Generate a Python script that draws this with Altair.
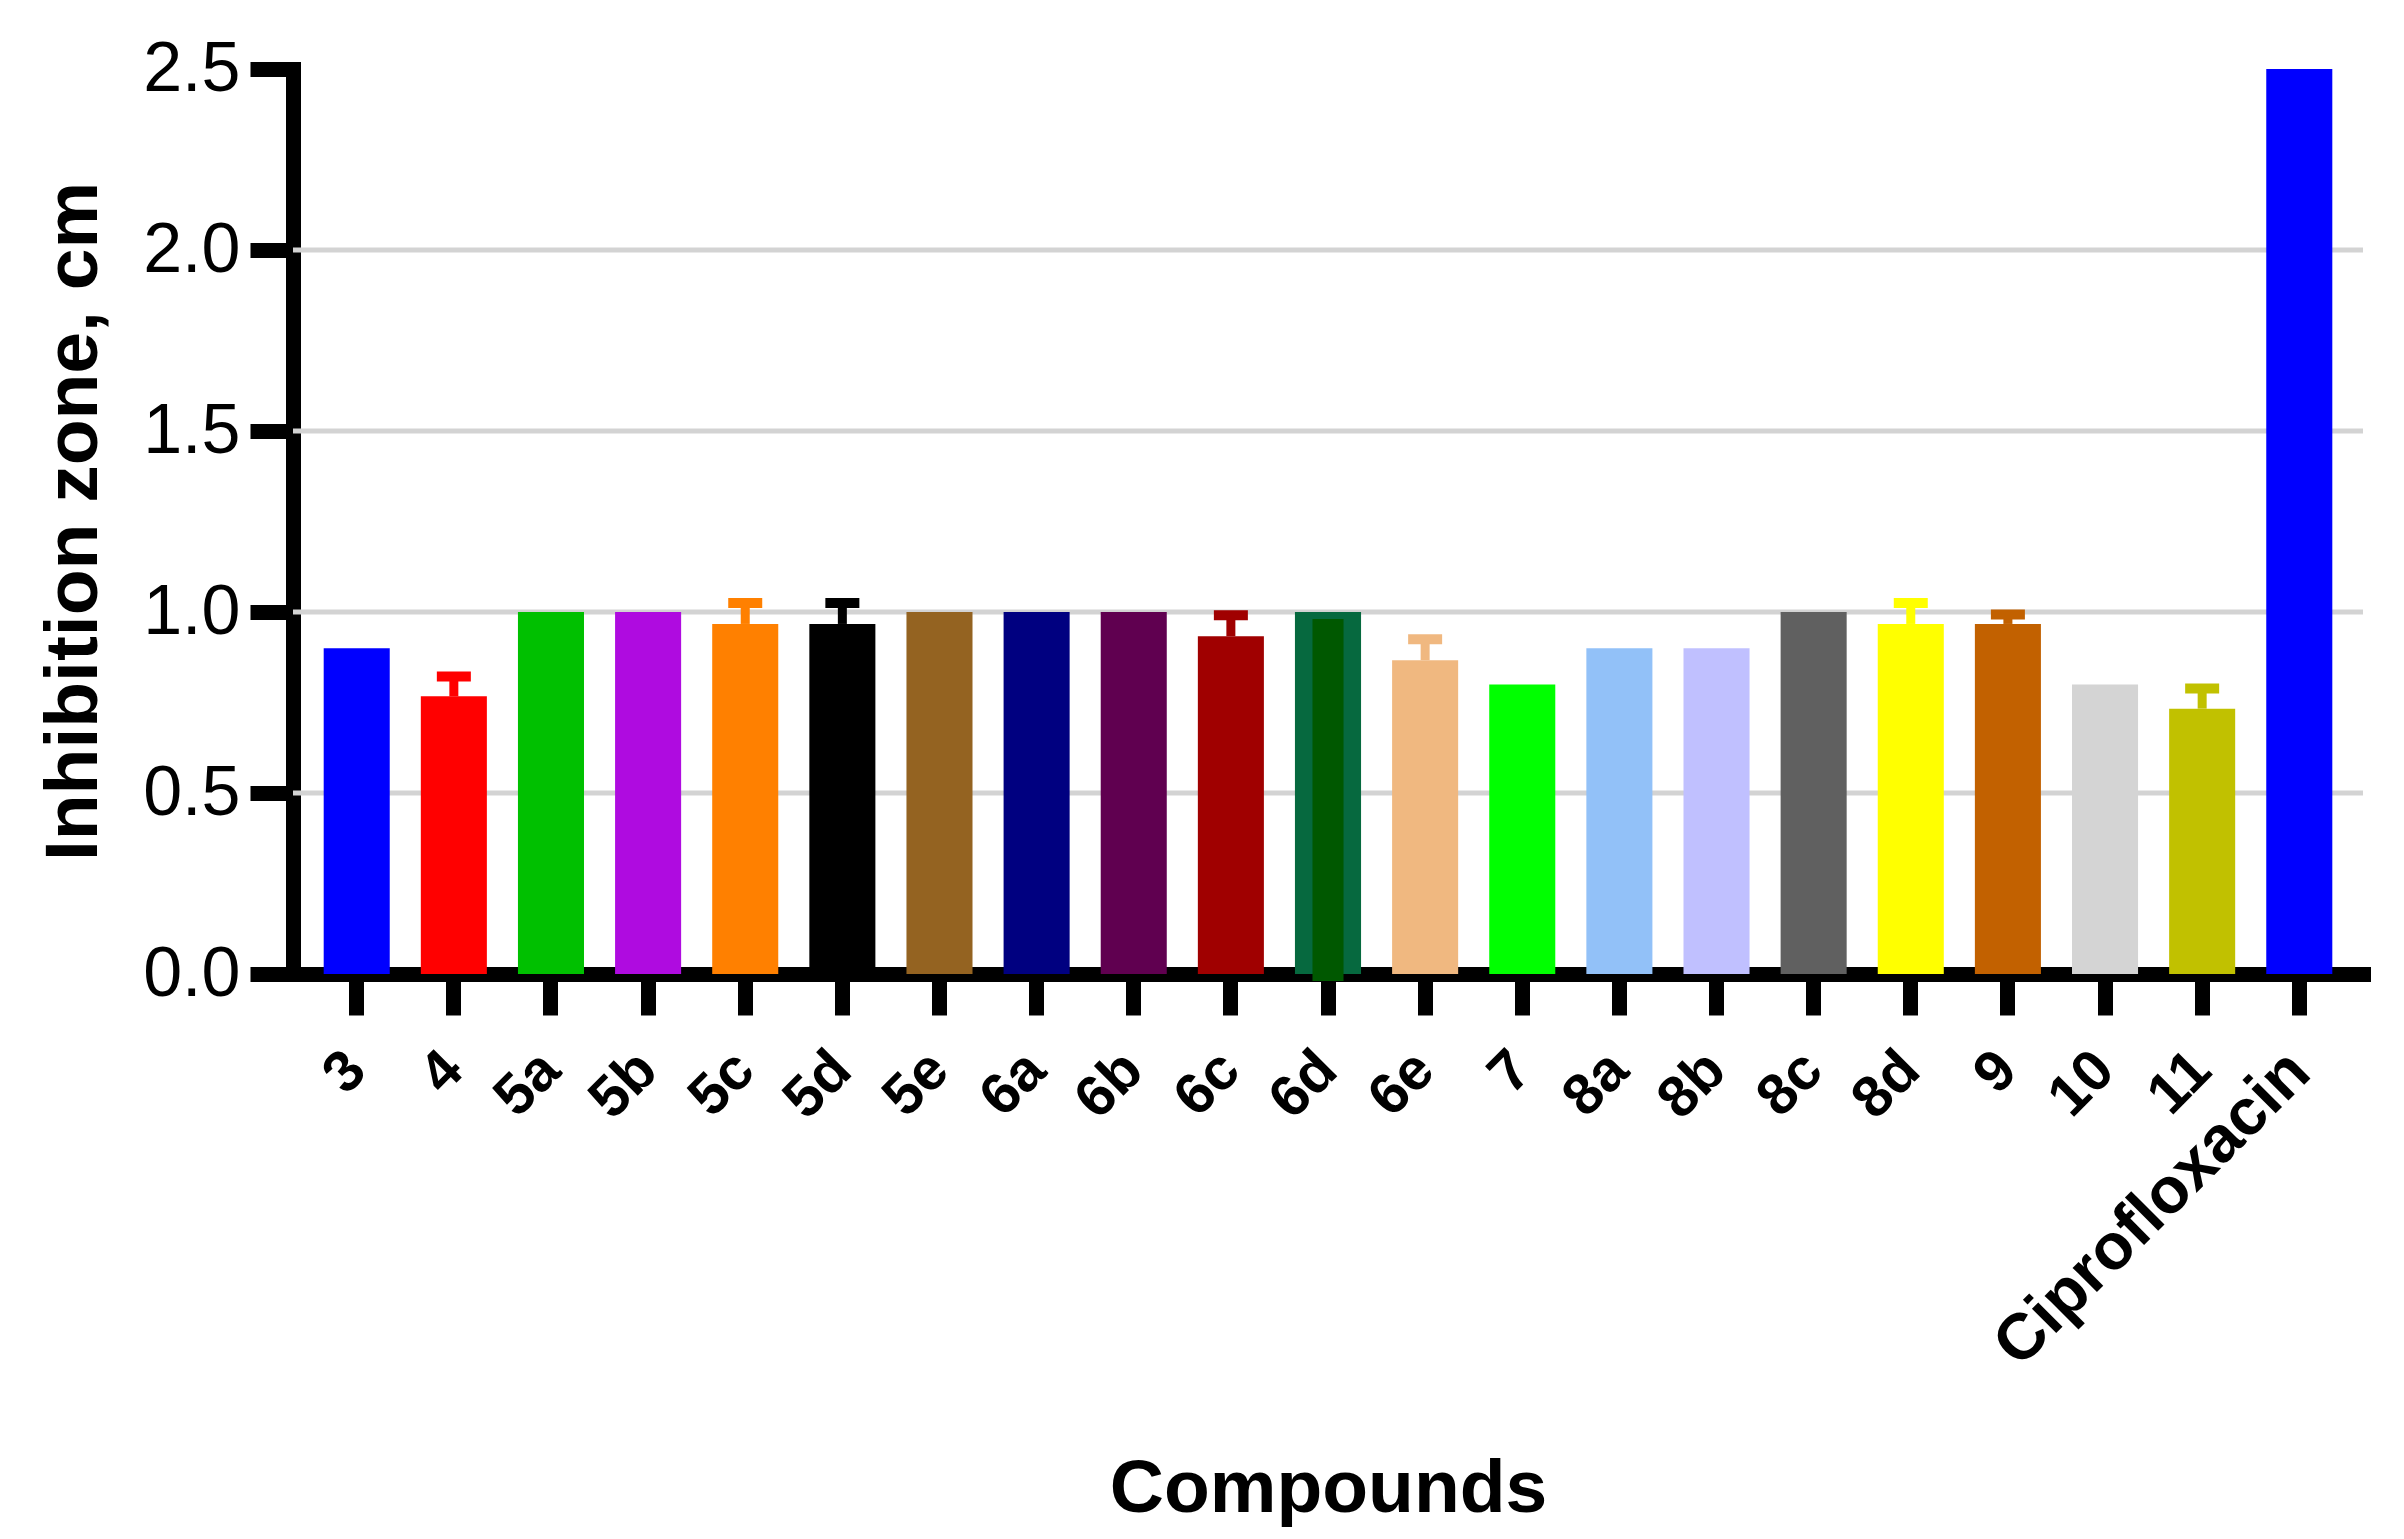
import altair as alt
import pandas as pd

compounds = ['3', '4', '5a', '5b', '5c', '5d', '5e', '6a', '6b', '6c', '6d', '6e',
             '7', '8a', '8b', '8c', '8d', '9', '10', '11', 'Ciprofloxacin']
means = [0.9, 0.767, 1.0, 1.0, 0.967, 0.967, 1.0, 1.0, 1.0, 0.933, 1.0, 0.867,
         0.8, 0.9, 0.9, 1.0, 0.967, 0.967, 0.8, 0.733, 2.5]
errors = [0, 0.055, 0, 0, 0.058, 0.058, 0, 0, 0, 0.058, 0, 0.058,
          0, 0, 0, 0, 0.058, 0.026, 0, 0.056, 0]
bar_colors = ['#0000FF', '#FF0000', '#00C000', '#AF0BE0', '#FF8000', '#000000',
              '#946321', '#000080', '#600050', '#A00000', '#005800', '#F0B880',
              '#00FF00', '#92C1F8', '#C0C0FF', '#606060', '#FFFF00', '#C26100',
              '#D4D4D4', '#C1C100', '#0000FF']
# 6d is the only bar drawn with an outline
outlined = ['6d']
outline_color = '#06693F'
grid_values = [0.5, 1.0, 1.5, 2.0]
y_ticks = [0.0, 0.5, 1.0, 1.5, 2.0, 2.5]

df = pd.DataFrame({'compound': compounds, 'mean': means, 'err': errors})
df['upper'] = df['mean'] + df['err']
grid_df = pd.DataFrame({'g': grid_values})

FONT = 'Liberation Sans'

# the long reference label is set a little larger so it spans as far as the original
label_size = {'condition': {'test': "datum.value == 'Ciprofloxacin'", 'value': 65},
              'value': 58}

x_scale = alt.Scale(paddingInner=0.32, paddingOuter=0.316)
x_axis = alt.Axis(title='Compounds', labelAngle=-45, labelAlign='right',
                  labelBaseline='middle', labelPadding=46,
                  labelFontSize=label_size, labelFontWeight='bold',
                  labelLimit=1000, labelOverlap=False,
                  tickSize=41, titleFontSize=75,
                  titleY=537, titleX=1035, titleBaseline='alphabetic')
y_scale = alt.Scale(domain=[0, 2.5], nice=False)
y_axis = alt.Axis(title='Inhibition zone, cm', values=y_ticks, format='.1f',
                  labelFontSize=70, labelFontWeight='normal', labelPadding=10,
                  tickSize=43, titleFontSize=75, titleX=-197, titleY=452,
                  titleBaseline='alphabetic')
fill_scale = alt.Scale(domain=compounds, range=bar_colors)

grid = alt.Chart(grid_df).mark_rule(color='#D3D3D3', strokeWidth=5).encode(
    y=alt.Y('g:Q', scale=y_scale, axis=y_axis)
)

bars = alt.Chart(df).mark_bar().encode(
    x=alt.X('compound:N', sort=compounds, scale=x_scale, axis=x_axis),
    y=alt.Y('mean:Q', scale=y_scale, axis=y_axis),
    fill=alt.Fill('compound:N', scale=fill_scale, legend=None)
)

# outline of 6d: a full-width bar in the edge colour, then the inner fill on top
edge = alt.Chart(df[df['compound'].isin(outlined)]).mark_bar(color=outline_color).encode(
    x=alt.X('compound:N', sort=compounds),
    y=alt.Y('mean:Q', scale=y_scale)
)
inner = alt.Chart(df[df['compound'].isin(outlined)]).mark_bar(
    width=alt.RelativeBandSize(0.47), yOffset=7
).encode(
    x=alt.X('compound:N', sort=compounds),
    y=alt.Y('mean:Q', scale=y_scale),
    fill=alt.Fill('compound:N', scale=fill_scale, legend=None)
)

err_df = df[df['err'] > 0]
stems = alt.Chart(err_df).mark_rule(strokeWidth=9).encode(
    x=alt.X('compound:N', sort=compounds),
    y=alt.Y('mean:Q', scale=y_scale),
    y2='upper:Q',
    color=alt.Color('compound:N', scale=fill_scale, legend=None)
)
caps = alt.Chart(err_df).mark_tick(thickness=10, size=34, opacity=1).encode(
    x=alt.X('compound:N', sort=compounds),
    y=alt.Y('upper:Q', scale=y_scale),
    color=alt.Color('compound:N', scale=fill_scale, legend=None)
)

chart = alt.layer(grid, bars, edge, inner, stems, caps).properties(
    width=2070, height=905,
    autosize=alt.AutoSizeParams(type='none'),
    padding={'left': 285, 'top': 61, 'right': 30, 'bottom': 555}
).configure_view(strokeWidth=0
).configure_axis(
    labelFont=FONT, titleFont=FONT, labelColor='black', titleColor='black',
    titleFontWeight='bold', domainColor='black', domainWidth=15,
    domainCap='square', tickColor='black', tickWidth=15, grid=False, zindex=1
)

chart.save('out.html', embed_options={'renderer': 'svg', 'actions': False})
